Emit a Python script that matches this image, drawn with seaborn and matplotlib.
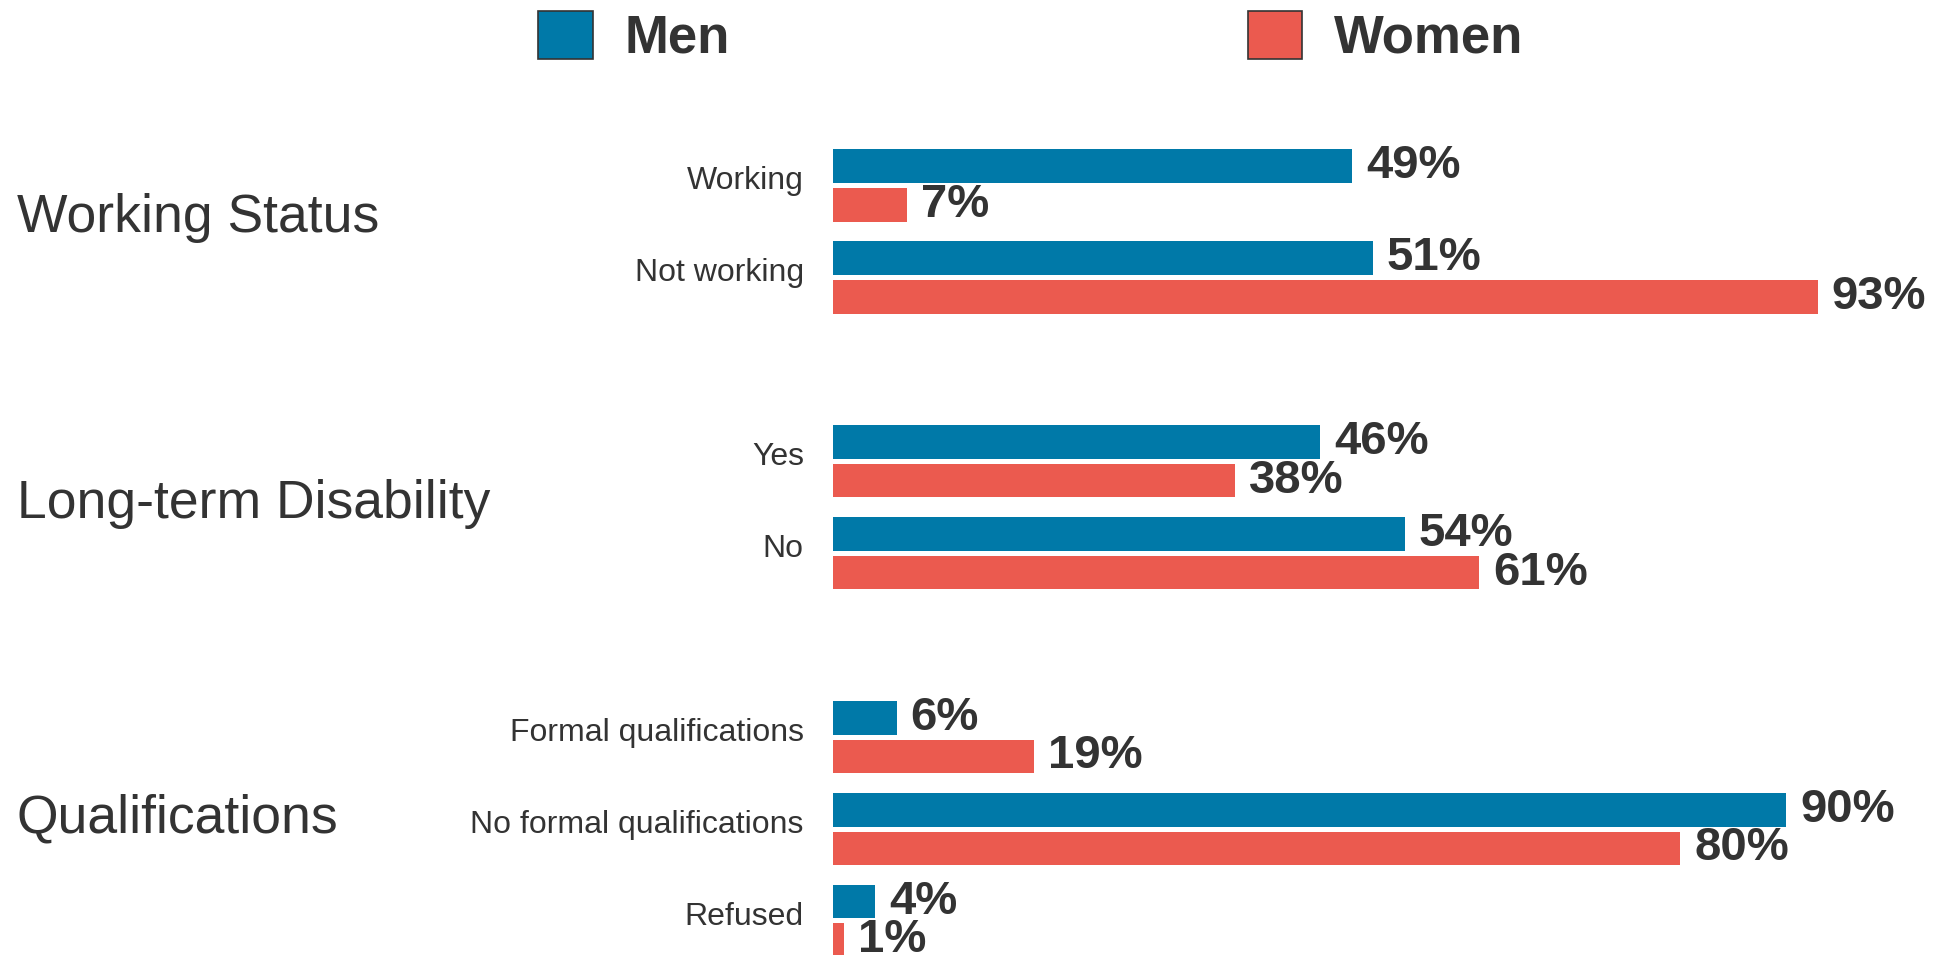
import matplotlib
matplotlib.use("Agg")
import matplotlib.pyplot as plt
import matplotlib.transforms as mtransforms
from matplotlib.patches import Patch
import pandas as pd
import seaborn as sns

# Survey breakdown by sex (percent of each sex)
groups = ["Working Status", "Long-term Disability", "Qualifications"]
group_items = [
    ["Working", "Not working"],
    ["Yes", "No"],
    ["Formal qualifications", "No formal qualifications", "Refused"],
]
men_pct = [49, 51, 46, 54, 6, 90, 4]
women_pct = [7, 93, 38, 61, 19, 80, 1]
sexes = ["Men", "Women"]
palette = {"Men": "#0079A8", "Women": "#EB5A4F"}

items = [c for g in group_items for c in g]
df = pd.DataFrame({
    "item": items * 2,
    "sex": ["Men"] * len(items) + ["Women"] * len(items),
    "pct": men_pct + women_pct,
})

# category order with a blank slot between groups
order = []
group_centres = []
for i, g in enumerate(group_items):
    start = len(order)
    order.extend(g)
    group_centres.append(start + (len(g) - 1) / 2)
    if i < len(group_items) - 1:
        order.append(" " * (i + 1))

sns.set_theme(style="white")
plt.rcParams["font.family"] = ["Liberation Sans", "DejaVu Sans"]
text_col = "#333333"

fig = plt.figure(figsize=(19.5, 9.55), dpi=100)
ax = fig.add_axes([0.4272, 0.0, 0.543, 0.8953])

sns.barplot(data=df, y="item", x="pct", hue="sex", order=order,
            hue_order=sexes, palette=palette, orient="h", width=0.84,
            gap=0.13, linewidth=0, saturation=1, ax=ax, legend=False)

for cont in ax.containers:
    ax.bar_label(cont, labels=[f"{int(round(b.get_width()))}%" for b in cont],
                 padding=10, fontsize=34, fontweight="bold", color=text_col,
                 clip_on=False)

ax.set_xlim(0, 100)
ax.set_ylim(8.37, -0.93)
ax.set_xlabel("")
ax.set_ylabel("")
ax.set_xticks([])
ax.tick_params(axis="y", length=0, pad=21, labelsize=23, labelcolor=text_col)
lift = mtransforms.ScaledTranslation(0, 5.5 / 72, fig.dpi_scale_trans)
for lab in ax.get_yticklabels():
    lab.set_transform(lab.get_transform() + lift)
for s in ax.spines.values():
    s.set_visible(False)

# group headings on the far left
heading_shift = [-0.15, -0.04, -0.12]
head_trans = mtransforms.blended_transform_factory(fig.transFigure, ax.transData)
for g, yc, dy in zip(groups, group_centres, heading_shift):
    ax.text(0.0087, yc + dy, g, transform=head_trans, fontsize=38.5,
            color=text_col, ha="left", va="center")

handles = [Patch(facecolor=palette[s], edgecolor=text_col, linewidth=1.2)
           for s in sexes]
fig.legend(handles, sexes, loc="upper center", bbox_to_anchor=(0.5287, 1.0),
           ncol=2, frameon=False, prop={"weight": "bold", "size": 38},
           handlelength=1.04, handleheight=1.04, handletextpad=0.6,
           columnspacing=9.8, borderaxespad=0.1, borderpad=0.1,
           labelcolor=text_col)

fig.savefig("out.png", dpi=100)
